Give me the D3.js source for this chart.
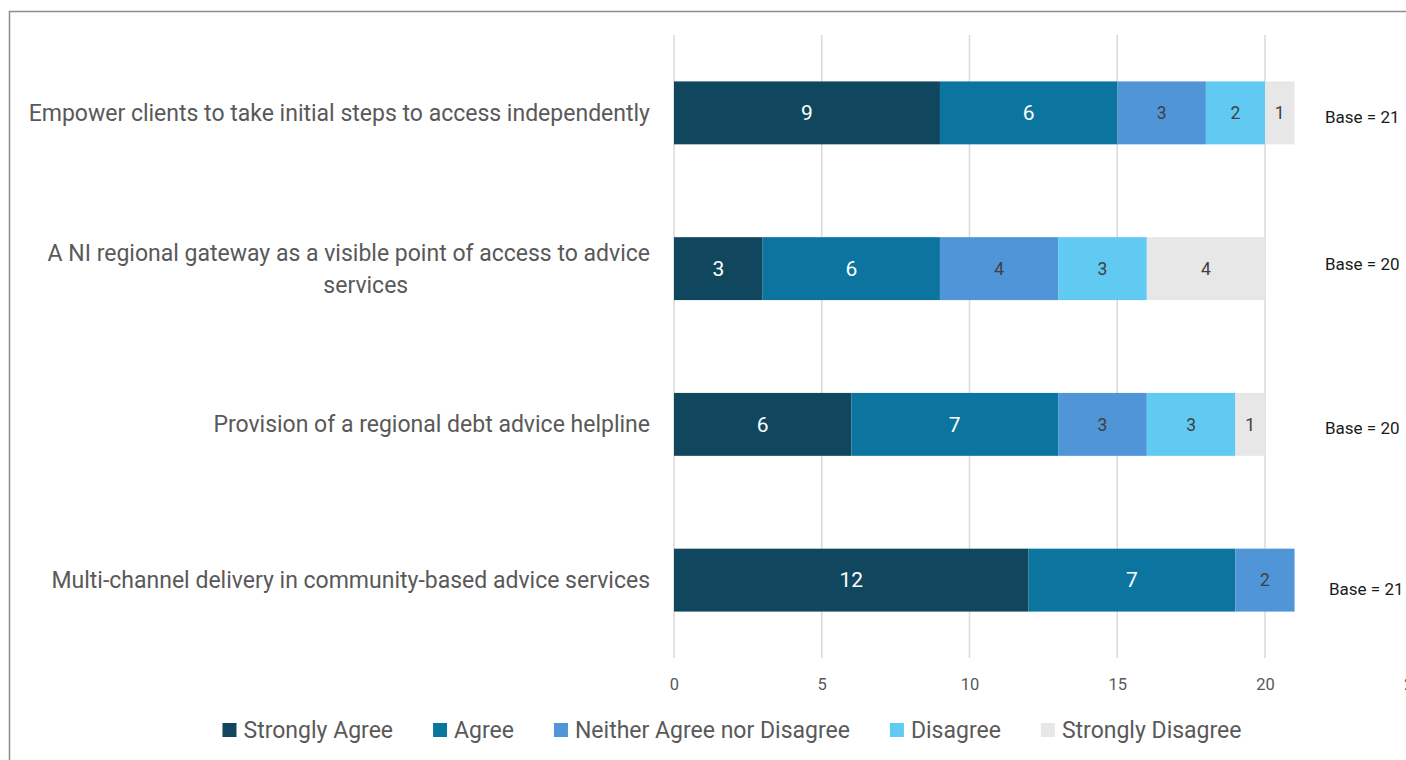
<!DOCTYPE html>
<html>
<head>
<meta charset="utf-8">
<script src="https://cdn.jsdelivr.net/npm/d3@7"></script>
<style>
  html, body { margin: 0; padding: 0; background: #fff; overflow: hidden; }
  svg { display: block; font-family: Roboto, "Liberation Sans", sans-serif; }
</style>
</head>
<body>
<svg id="chart" width="1406" height="760"></svg>
<script>
// Survey statements (top to bottom)
const statements = [
  "Empower clients to take initial steps to access independently",
  "A NI regional gateway as a visible point of access to advice services",
  "Provision of a regional debt advice helpline",
  "Multi-channel delivery in community-based advice services"
];
// Wrapped label lines for each statement
const statementLines = [
  ["Empower clients to take initial steps to access independently"],
  ["A NI regional gateway as a visible point of access to advice", "services"],
  ["Provision of a regional debt advice helpline"],
  ["Multi-channel delivery in community-based advice services"]
];
const responses = ["Strongly Agree", "Agree", "Neither Agree nor Disagree", "Disagree", "Strongly Disagree"];
const stronglyAgree = [9, 3, 6, 12];
const agree         = [6, 6, 7, 7];
const neither       = [3, 4, 3, 2];
const disagree      = [2, 3, 3, 0];
const stronglyDis   = [1, 4, 1, 0];
const baseCounts    = [21, 20, 20, 21];
const xTicks        = [0, 5, 10, 15, 20, 25];

const colors     = ["#10475F", "#0C759F", "#4F95D8", "#60CAF3", "#E7E7E7"];
const labelInk   = ["#ffffff", "#ffffff", "#404040", "#404040", "#404040"];
// small hand-placed offsets of the base annotations
const baseNudge  = [{dx: 0, dy: 4}, {dx: 0, dy: -5}, {dx: 0, dy: 4}, {dx: 4, dy: 9}];

const seriesValues = [stronglyAgree, agree, neither, disagree, stronglyDis];
const rows = statements.map((s, i) => {
  const r = { statement: s };
  responses.forEach((k, j) => { r[k] = seriesValues[j][i]; });
  return r;
});

const svg = d3.select("#chart");

// outer chart frame
svg.append("rect")
  .attr("x", 9.5).attr("y", 11.5)
  .attr("width", 1500).attr("height", 800)
  .attr("fill", "none").attr("stroke", "#8c8c8c").attr("stroke-width", 1.5);

const x = d3.scaleLinear().domain([0, 25]).range([674, 674 + 25 * 29.55]);
const y = d3.scaleBand().domain(statements).range([35, 658])
  .paddingInner(0.596).paddingOuter(0.298);

// vertical gridlines
svg.append("g").selectAll("line").data(xTicks).join("line")
  .attr("x1", d => x(d)).attr("x2", d => x(d))
  .attr("y1", 35).attr("y2", 658)
  .attr("stroke", "#d9d9d9").attr("stroke-width", 1.5);

// x axis labels
const xAxis = d3.axisBottom(x).tickValues(xTicks).tickSize(0).tickPadding(0);
const gx = svg.append("g").attr("transform", "translate(0,678)").call(xAxis);
gx.select(".domain").remove();
gx.selectAll("text").attr("font-size", 16.5).attr("fill", "#595959")
  .attr("font-family", "Roboto, sans-serif");

// stacked bars
const stack = d3.stack().keys(responses);
const layers = stack(rows);

const g = svg.append("g");
layers.forEach((layer, li) => {
  const lg = g.append("g");
  lg.selectAll("rect").data(layer.filter(d => d[1] - d[0] > 0)).join("rect")
    .attr("x", d => x(d[0]))
    .attr("y", d => y(d.data.statement))
    .attr("width", d => x(d[1]) - x(d[0]))
    .attr("height", y.bandwidth())
    .attr("fill", colors[li]);
  lg.selectAll("text").data(layer.filter(d => d[1] - d[0] > 0)).join("text")
    .attr("x", d => (x(d[0]) + x(d[1])) / 2)
    .attr("y", d => y(d.data.statement) + y.bandwidth() / 2)
    .attr("dy", "0.35em")
    .attr("text-anchor", "middle")
    .attr("font-size", li < 2 ? 21 : 17.5)
    .attr("fill", labelInk[li])
    .text(d => d[1] - d[0]);
});

// category labels
const catG = svg.append("g");
statementLines.forEach((lines, i) => {
  const cy = y(statements[i]) + y.bandwidth() / 2;
  const lh = 32;
  const t = catG.append("text")
    .attr("font-size", 23).attr("fill", "#595959");
  if (lines.length === 1) {
    t.attr("x", 650).attr("y", cy).attr("dy", "0.35em")
      .attr("text-anchor", "end").text(lines[0]);
  } else {
    // first line right-aligned, following lines centred beneath it
    t.attr("text-anchor", "end");
    const first = t.append("tspan").attr("x", 650).attr("y", cy - lh / 2).attr("dy", "0.35em").text(lines[0]);
    const w = first.node().getComputedTextLength();
    lines.slice(1).forEach((ln, k) => {
      t.append("tspan").attr("text-anchor", "middle")
        .attr("x", 650 - w / 2 + 17).attr("y", cy - lh / 2 + lh * (k + 1)).attr("dy", "0.35em").text(ln);
    });
  }
});

// base annotations
svg.append("g").selectAll("text").data(baseCounts).join("text")
  .attr("x", (d, i) => 1325 + baseNudge[i].dx)
  .attr("y", (d, i) => y(statements[i]) + y.bandwidth() / 2 + baseNudge[i].dy)
  .attr("dy", "0.35em")
  .attr("font-size", 17).attr("fill", "#1a1a1a")
  .text(d => "Base = " + d);

// legend
const leg = svg.append("g");
const items = [];
responses.forEach((r, i) => {
  const it = leg.append("g");
  it.append("rect").attr("x", 0).attr("y", -7).attr("width", 14).attr("height", 14).attr("fill", colors[i]);
  const tx = it.append("text").attr("x", 21).attr("y", 0).attr("dy", "0.35em")
    .attr("font-size", 23).attr("fill", "#595959").text(r);
  const w = 21 + tx.node().getComputedTextLength();
  items.push({ it, w });
});
const gap = 40;
const total = d3.sum(items, d => d.w) + gap * (items.length - 1);
let cx = 732 - total / 2;
items.forEach(d => { d.it.attr("transform", `translate(${cx},730)`); cx += d.w + gap; });
</script>
</body>
</html>
